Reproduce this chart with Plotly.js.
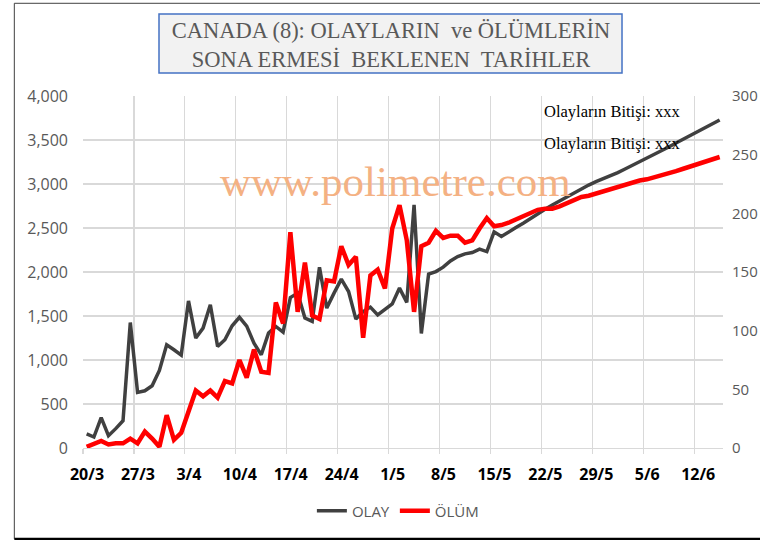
<!DOCTYPE html>
<html>
<head>
<meta charset="utf-8">
<script src="https://cdn.plot.ly/plotly-3.0.1.min.js"></script>
<style>html,body{margin:0;padding:0;background:#fff;}#chart{width:760px;height:540px;}</style>
</head>
<body>
<div id="chart"></div>
<script>
// ---- data ----
const DATES = [
 '2020-03-20','2020-03-21','2020-03-22','2020-03-23','2020-03-24','2020-03-25','2020-03-26','2020-03-27','2020-03-28','2020-03-29','2020-03-30','2020-03-31',
 '2020-04-01','2020-04-02','2020-04-03','2020-04-04','2020-04-05','2020-04-06','2020-04-07','2020-04-08','2020-04-09','2020-04-10',
 '2020-04-11','2020-04-12','2020-04-13','2020-04-14','2020-04-15','2020-04-16','2020-04-17','2020-04-18','2020-04-19','2020-04-20',
 '2020-04-21','2020-04-22','2020-04-23','2020-04-24','2020-04-25','2020-04-26','2020-04-27','2020-04-28','2020-04-29','2020-04-30',
 '2020-05-01','2020-05-02','2020-05-03','2020-05-04','2020-05-05','2020-05-06','2020-05-07','2020-05-08','2020-05-09','2020-05-10',
 '2020-05-11','2020-05-12','2020-05-13','2020-05-14','2020-05-15','2020-05-16','2020-05-17','2020-05-18','2020-05-19','2020-05-20',
 '2020-05-21','2020-05-22','2020-05-23','2020-05-24','2020-05-25','2020-05-26','2020-05-27','2020-05-28','2020-05-29','2020-05-30','2020-05-31',
 '2020-06-01','2020-06-02','2020-06-03','2020-06-04','2020-06-05','2020-06-06','2020-06-07','2020-06-08','2020-06-09','2020-06-10',
 '2020-06-11','2020-06-12','2020-06-13','2020-06-14','2020-06-15'
];
const OLAY = [
 160,125,345,140,220,310,1426,631,650,707,881,1173,1116,1056,1672,1249,1362,1627,1154,1230,
 1389,1485,1385,1192,1059,1306,1381,1317,1710,1760,1476,1438,2053,1590,1760,1919,1778,1465,1551,1601,
 1513,1570,1638,1817,1655,2762,1302,1976,2005,2055,2126,2175,2206,2221,2259,2232,2456,2403,2459,2505,
 2555,2611,2660,2714,2762,2808,2857,2907,2950,2988,3027,3060,3090,3130,3170,3210,3250,3290,3335,3375,
 3420,3465,3510,3555,3600,3640,3685,3727
];
const OLUM = [
 1,3,6,3,4,4,8,4,14,8,1,28,7,13,30,49,44,49,43,57,
 55,75,60,84,65,64,124,106,184,116,158,113,110,143,142,172,156,163,94,147,
 152,136,187,207,177,116,172,175,185,179,181,181,175,177,187,196,189,190,192,195,
 197,200,203,204,204,206,209,211,214,215,217,218,220,222,224,226,228,229,231,232,
 234,236,238,240,242,244,246,248
];
const TICK_DATES = ['2020-03-20','2020-03-27','2020-04-03','2020-04-10','2020-04-17','2020-04-24','2020-05-01','2020-05-08','2020-05-15','2020-05-22','2020-05-29','2020-06-05','2020-06-12'];
const TICK_LABELS = ['20/3','27/3','3/4','10/4','17/4','24/4','1/5','8/5','15/5','22/5','29/5','5/6','12/6'];
const SERIES_NAMES = ['OLAY','ÖLÜM'];
const TITLE_LINES = ['CANADA (8): OLAYLARIN\u00a0 ve ÖLÜMLERİN','SONA ERMESİ\u00a0 BEKLENEN\u00a0 TARİHLER'];
const NOTE_TEXT = ['Olayların Bitişi: xxx','Olayların Bitişi: xxx'];
const WATERMARK = 'www.polimetre.com';

// ---- helpers (positioning only) ----
function halfDayBefore(d){
  const t = new Date(d + 'T00:00:00Z').getTime() - 12*3600*1000;
  const z = new Date(t);
  const p = n => String(n).padStart(2,'0');
  return z.getUTCFullYear()+'-'+p(z.getUTCMonth()+1)+'-'+p(z.getUTCDate())+' '+p(z.getUTCHours())+':00';
}
const tickvals = TICK_DATES.map(halfDayBefore);

const traces = [
  {x: DATES, y: OLAY, name: SERIES_NAMES[0], type:'scatter', mode:'lines', yaxis:'y',
   line:{color:'#404040', width:3.5}},
  {x: DATES, y: OLUM, name: SERIES_NAMES[1], type:'scatter', mode:'lines', yaxis:'y2',
   line:{color:'#ff0000', width:4.5}}
];

const tickFont = {family:'Open Sans, Liberation Sans, sans-serif', size:16, color:'#595959'};
const layout = {
  width:760, height:540,
  margin:{l:83, r:37, t:96, b:92},
  paper_bgcolor:'#ffffff', plot_bgcolor:'#ffffff',
  title:{text: TITLE_LINES.join('<br>'), font:{family:'Liberation Serif, Times New Roman, serif', size:22.5, color:'#595959'},
         x:0.5145, xanchor:'center', y:1-38/540, yanchor:'middle', xref:'container', yref:'container'},
  xaxis:{type:'date', range:[halfDayBefore(DATES[0]), '2020-06-15 11:00'],
         tickmode:'array', tickvals:tickvals, ticktext:TICK_LABELS,
         showgrid:true, gridcolor:'#d9d9d9', gridwidth:1.25,
         ticks:'outside', ticklen:5, tickcolor:'#d9d9d9', tickwidth:1.25,
         showline:true, linecolor:'#d9d9d9', linewidth:1.25,
         ticklabelshift:4, ticklabelstandoff:7,
         tickfont:{family:'Open Sans, Liberation Sans, sans-serif', size:16, color:'#000000', weight:'bold'},
         zeroline:false, fixedrange:true},
  yaxis:{range:[0,4000], dtick:500, tickformat:',d', showgrid:true, gridcolor:'#d9d9d9', gridwidth:1.25,
         zeroline:false, showline:false, ticks:'', ticklabelstandoff:14, tickfont:tickFont, fixedrange:true},
  yaxis2:{range:[0,300], dtick:50, overlaying:'y', side:'right', showgrid:false, zeroline:false,
          showline:false, ticks:'', ticklabelstandoff:8,
          tickfont:{family:'Open Sans, Liberation Sans, sans-serif', size:15, color:'#595959'}, fixedrange:true},
  showlegend:true,
  legend:{orientation:'h', x:0.492, xanchor:'center', y:-0.179, yanchor:'middle',
          font:{family:'Open Sans, Liberation Sans, sans-serif', size:15, color:'#595959'},
          bgcolor:'rgba(0,0,0,0)', itemwidth:30},
  shapes:[
    {type:'rect', xref:'paper', yref:'paper', x0:0.11875, x1:0.8422, y0:1.0653, y1:1.2330,
     fillcolor:'#f2f2f2', line:{color:'#4472c4', width:1.5}, layer:'below'},
    {type:'line', xref:'paper', yref:'paper', x0:-0.1073, x1:-0.1073, y0:-0.258, y1:1.2634, line:{color:'#404040', width:1}},
    {type:'line', xref:'paper', yref:'paper', x0:-0.1073, x1:1.2, y0:1.2634, y1:1.2634, line:{color:'#404040', width:1}},
    {type:'line', xref:'paper', yref:'paper', x0:-0.1073, x1:1.2, y0:-0.259, y1:-0.259, line:{color:'#000000', width:3}}
  ],
  annotations:[
    {text: WATERMARK, xref:'paper', yref:'paper', x:0.489, y:0.7557, xanchor:'center', yanchor:'middle', showarrow:false,
     font:{family:'Liberation Serif, Times New Roman, serif', size:43, color:'#f4b183'}},
    {text: NOTE_TEXT[0], xref:'paper', yref:'paper', x:0.7172, y:0.9554, xanchor:'left', yanchor:'middle', showarrow:false,
     font:{family:'Liberation Serif, Times New Roman, serif', size:16.5, color:'#000000'}},
    {text: NOTE_TEXT[1], xref:'paper', yref:'paper', x:0.7172, y:0.8656, xanchor:'left', yanchor:'middle', showarrow:false,
     font:{family:'Liberation Serif, Times New Roman, serif', size:16.5, color:'#000000'}}
  ]
};

Plotly.newPlot('chart', traces, layout, {displayModeBar:false, staticPlot:true});
</script>
</body>
</html>
